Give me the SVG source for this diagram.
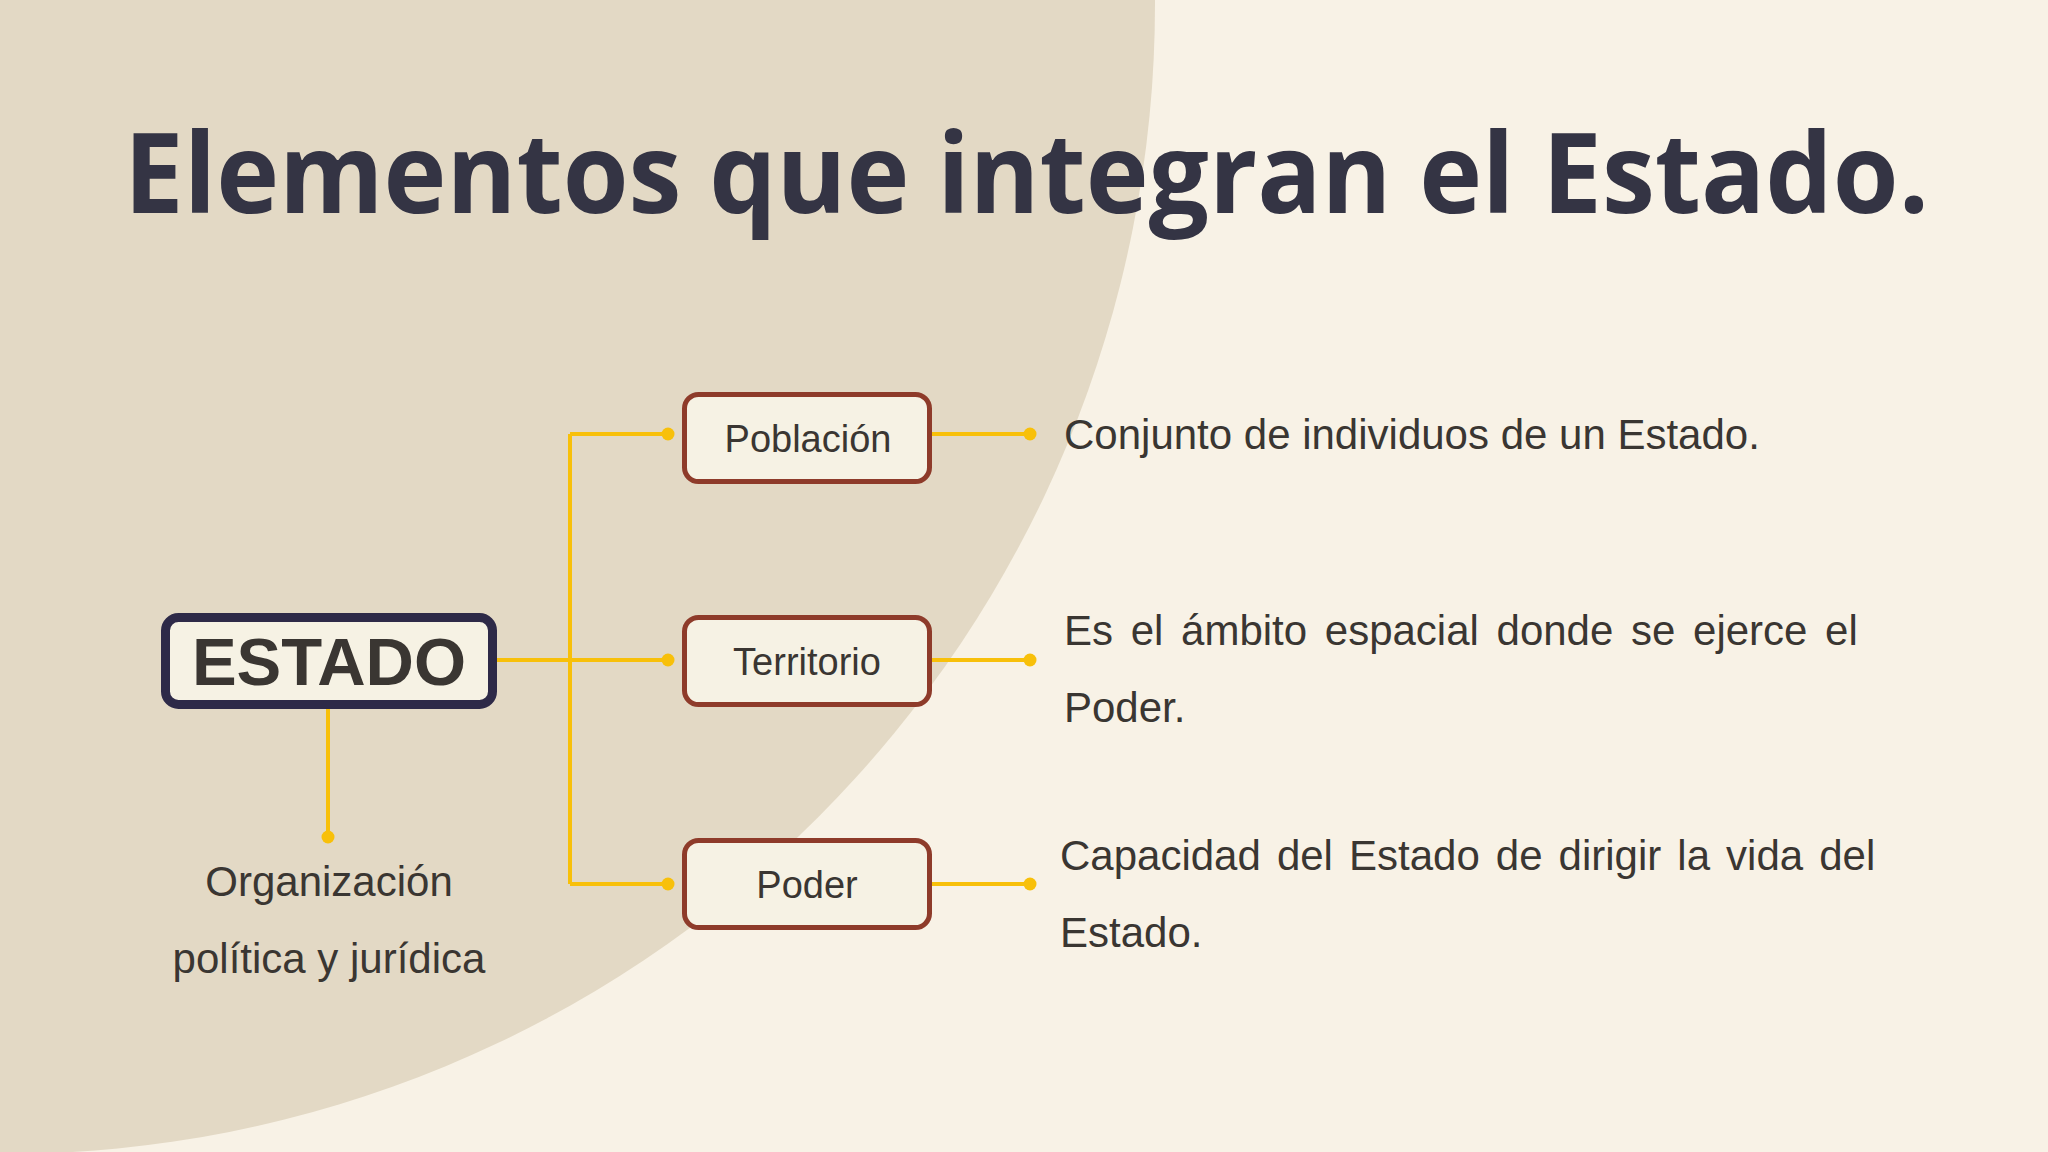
<svg xmlns="http://www.w3.org/2000/svg" width="2048" height="1152" viewBox="0 0 2048 1152">
  <defs>
    <style>
      .title { font-family: "Open Sans", "Noto Sans", sans-serif; font-weight: 700; font-size: 112px; fill: #343444; }
      .box { fill: #F6F2E4; stroke: #8E3B2A; stroke-width: 5; }
      .main { fill: #F6F2E4; stroke: #2E2A48; stroke-width: 9; }
      .lbl { font-family: "Liberation Sans", Arial, sans-serif; font-size: 38px; fill: #3A3632; text-anchor: middle; }
      .big { font-family: "Liberation Sans", Arial, sans-serif; font-size: 67px; font-weight: 700; fill: #3A3632; text-anchor: middle; }
      .desc { font-family: "Liberation Sans", Arial, sans-serif; font-size: 42px; fill: #3A3632; }
      .wire { fill: none; stroke: #F8C00A; stroke-width: 4; }
      .dot { fill: #F8C00A; }
    </style>
  </defs>

  <rect x="0" y="0" width="2048" height="1152" fill="#F8F2E6"/>
  <circle cx="5" cy="4" r="1150" fill="#E3D9C5"/>

  <text class="title" x="124" y="213" textLength="1805" lengthAdjust="spacingAndGlyphs">Elementos que integran el Estado.</text>

  <g id="connectors">
    <path class="wire" d="M497 660 H668"/>
    <path class="wire" d="M570 434 V884"/>
    <path class="wire" d="M570 434 H668"/>
    <path class="wire" d="M570 884 H668"/>
    <path class="wire" d="M932 434 H1030"/>
    <path class="wire" d="M932 660 H1030"/>
    <path class="wire" d="M932 884 H1030"/>
    <path class="wire" d="M328 709 V837"/>
    <circle class="dot" cx="668" cy="434" r="6.5"/>
    <circle class="dot" cx="668" cy="660" r="6.5"/>
    <circle class="dot" cx="668" cy="884" r="6.5"/>
    <circle class="dot" cx="1030" cy="434" r="6.5"/>
    <circle class="dot" cx="1030" cy="660" r="6.5"/>
    <circle class="dot" cx="1030" cy="884" r="6.5"/>
    <circle class="dot" cx="328" cy="837" r="6.5"/>
  </g>

  <g id="node-estado">
    <rect class="main" x="165.5" y="617.5" width="327" height="87" rx="13"/>
    <text class="big" x="329" y="685">ESTADO</text>
  </g>

  <g id="node-organizacion">
    <text class="desc" x="329" y="896" text-anchor="middle">Organización</text>
    <text class="desc" x="329" y="973" text-anchor="middle">política y jurídica</text>
  </g>

  <g id="node-poblacion">
    <rect class="box" x="684.5" y="394.5" width="245" height="87" rx="14"/>
    <text class="lbl" x="808" y="452">Población</text>
  </g>

  <g id="node-territorio">
    <rect class="box" x="684.5" y="617.5" width="245" height="87" rx="14"/>
    <text class="lbl" x="807" y="675">Territorio</text>
  </g>

  <g id="node-poder">
    <rect class="box" x="684.5" y="840.5" width="245" height="87" rx="14"/>
    <text class="lbl" x="807" y="898">Poder</text>
  </g>

  <g id="desc-poblacion">
    <text class="desc" x="1064" y="449">Conjunto de individuos de un Estado.</text>
  </g>

  <g id="desc-territorio">
    <text class="desc" x="1064" y="645" word-spacing="6">Es el ámbito espacial donde se ejerce el</text>
    <text class="desc" x="1064" y="722">Poder.</text>
  </g>

  <g id="desc-poder">
    <text class="desc" x="1060" y="870" word-spacing="4.4">Capacidad del Estado de dirigir la vida del</text>
    <text class="desc" x="1060" y="947">Estado.</text>
  </g>
</svg>
